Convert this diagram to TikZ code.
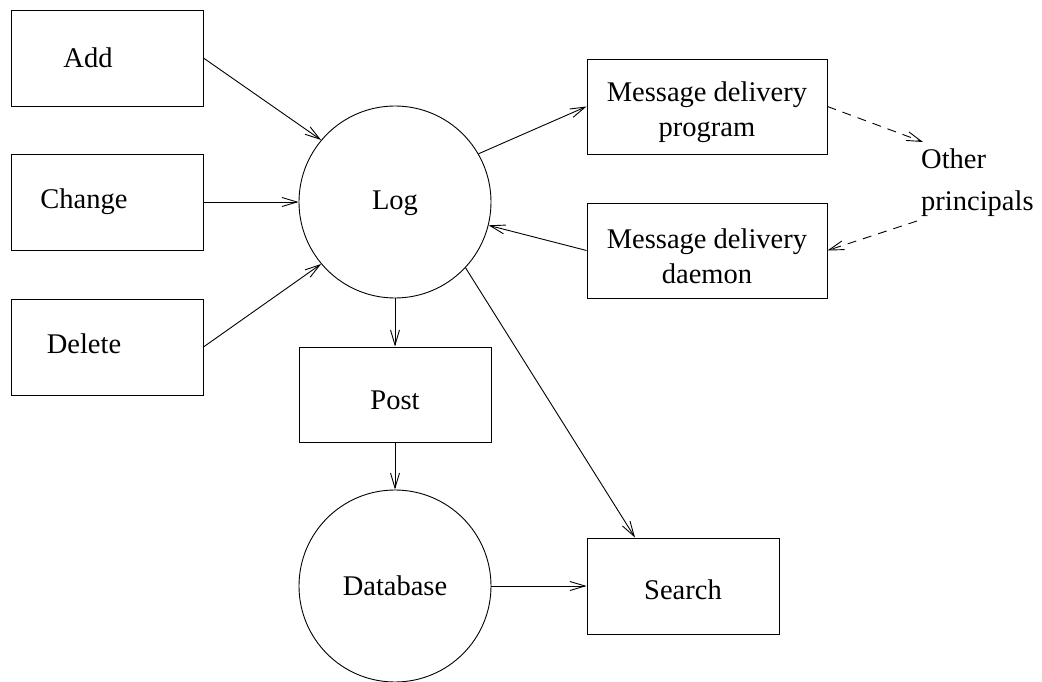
\documentclass[tikz,border=0pt]{standalone}
\usepackage{fontspec}
\setmainfont{Liberation Serif}
\usetikzlibrary{arrows.meta,calc}
\begin{document}
\begin{tikzpicture}[x=1pt,y=-1pt,
  every node/.style={font=\fontsize{28.5}{35}\selectfont},
  box/.style={draw, line width=0.9pt, rectangle, inner sep=0pt},
  circ/.style={draw, line width=0.9pt, circle, minimum size=192pt, inner sep=0pt},
  arr/.style={line width=0.9pt, -{Straight Barb[length=15pt,width=9pt]}},
  darr/.style={arr, dash pattern=on 9pt off 7pt}]
\useasboundingbox (0,0) rectangle (1042,682);

\node[box, minimum width=192pt, minimum height=96pt, label={[xshift=-19pt]center:Add}] (add) at (107,58) {};
\node[box, minimum width=192pt, minimum height=96pt, label={[xshift=-23pt]center:Change}] (change) at (107,202) {};
\node[box, minimum width=192pt, minimum height=96pt, label={[xshift=-23pt,yshift=3pt]center:Delete}] (delete) at (107,347) {};
\node[circ, label={[yshift=-1pt]center:Log}] (log) at (395,202) {};
\node[circ] (db) at (395,586) {Database};
\node[box, minimum width=192pt, minimum height=95pt, label={[yshift=-6pt]center:Post}] (post) at (395,394.5) {};
\node[box, minimum width=192pt, minimum height=96pt, label={[yshift=-4pt]center:Search}] (search) at (683,586) {};
\node[box, minimum width=240pt, minimum height=95pt, label={[align=center,yshift=-6pt]center:Message delivery\\program}] (mdp) at (707,106.5) {};
\node[box, minimum width=240pt, minimum height=95pt, label={[align=center,yshift=-6pt]center:Message delivery\\daemon}] (mdd) at (707,250.5) {};
\node[inner sep=0pt, align=left, anchor=west] (other) at (921,183) {Other\\[7pt]principals};
\coordinate (o1) at (923,142);
\coordinate (o2) at (917,221);

\draw[arr] (add.east) -- (log.140.6);
\draw[arr] (change.east) -- (log.west);
\draw[arr] (delete.east) -- (log.220);
\draw[arr] (log.30.3) -- (mdp.west);
\draw[arr] (mdd.west) -- (log.-14.6);
\draw[arr] (log.south) -- (post.north);
\draw[arr] (post.south) -- (db.north);
\draw[arr] (log.-43.7) -- ([xshift=-48pt]search.north);
\draw[arr] (db.east) -- (search.west);
\draw[darr] (mdp.east) -- (o1);
\draw[darr] (o2) -- (mdd.east);
\end{tikzpicture}
\end{document}
